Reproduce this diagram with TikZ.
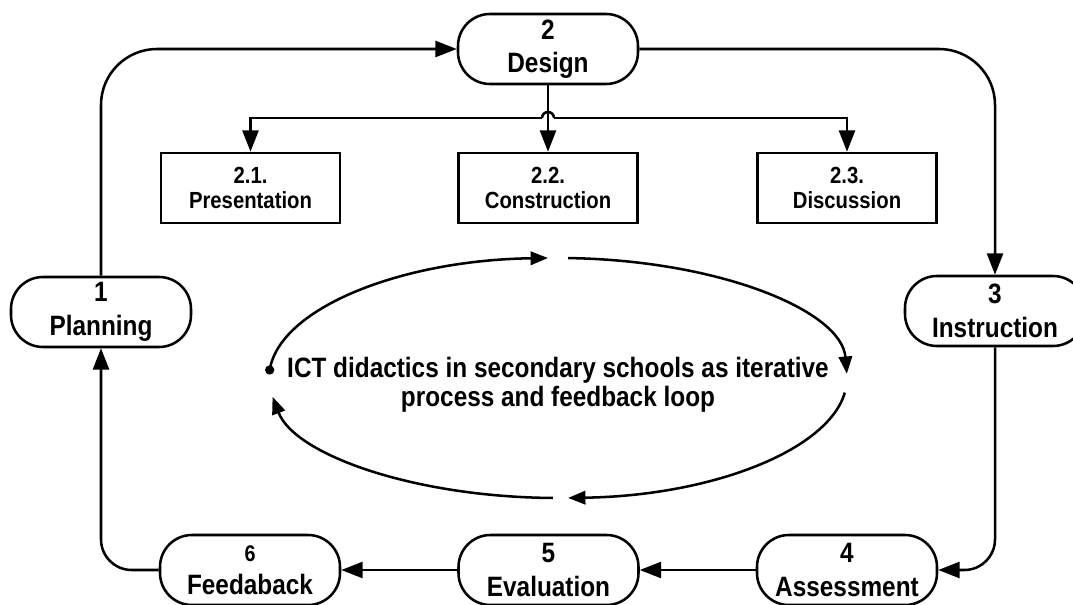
\documentclass[tikz,border=0pt]{standalone}
\usepackage{fontspec}
\setmainfont{Liberation Sans}[FakeStretch=0.87]
\usetikzlibrary{arrows.meta}
\begin{document}
\begin{tikzpicture}[x=0.75pt,y=0.75pt, line width=1.9pt,
 term/.style={draw, rounded corners=24pt, minimum width=135pt, minimum height=52.5pt, align=center, inner sep=0pt, font=\bfseries\fontsize{21}{25}\selectfont},
 sub/.style={draw, minimum width=134pt, minimum height=52.5pt, align=center, inner sep=0pt, font=\bfseries\fontsize{17.5}{18.5}\selectfont},
 arr/.style={-{Triangle[length=16pt,width=12pt]}},
 larr/.style={-{Triangle[length=13pt,width=10pt]}},
]
\useasboundingbox (0,0) rectangle (1073,-605);
\clip (0,0) rectangle (1073,-605);
\fill[white] (0,0) rectangle (1073,-605);
% main nodes
\node[term] (design) at (548,-49) {2\\Design};
\node[term] (plan) at (101,-312) {1\\Planning};
\node[term] (instr) at (995,-311) {3\\Instruction};
\node[term] (assess) at (847,-570) {4\\Assessment};
\node[term] (eval) at (548.5,-570) {5\\Evaluation};
\node[term] (feed) at (250,-570) {{\fontsize{17}{19}\selectfont 6}\\Feedaback};
% sub nodes
\node[sub] (s1) at (250.5,-188) {2.1.\\Presentation};
\node[sub] (s2) at (548,-188) {2.2.\\Construction};
\node[sub] (s3) at (847,-188) {2.3.\\Discussion};
% main cycle
\draw[arr, rounded corners=42pt] (plan.north) |- (design.west);
\draw[arr, rounded corners=42pt] (design.east) -| (instr.north);
\draw[arr, rounded corners=23pt] (instr.south) |- (assess.east);
\draw[arr] (assess.west) -- (eval.east);
\draw[arr] (eval.west) -- (feed.east);
\draw[arr, rounded corners=23pt] (feed.west) -| (plan.south);
% design branches
\draw[arr] (design.south) -- (s2.north);
\coordinate (hl) at (542,-118);
\coordinate (hr) at (554,-118);
\draw[arr] (hl) -| (s1.north);
\draw[arr] (hr) -| (s3.north);
\draw (hl) arc[start angle=180, end angle=0, radius=4.5pt];
% central loop
\coordinate (ec) at (558,-378);
\node[circle, fill, inner sep=0pt, minimum size=7pt] (dot) at (269.7,-370) {};
\node[font=\bfseries\fontsize{21}{22}\selectfont, align=center] (loop) at (558,-385)
  {ICT didactics in secondary schools as iterative\\process and feedback loop};
\draw[larr] (dot.center) arc[start angle=176.2, end angle=92, x radius=216.75pt, y radius=90pt];
\draw[larr] (ec) ++(88:216.75pt and 90pt) arc[start angle=88, end angle=2, x radius=216.75pt, y radius=90pt];
\draw[larr] (ec) ++(-7:216.75pt and 90pt) arc[start angle=-7, end angle=-88, x radius=216.75pt, y radius=90pt];
\draw[larr] (ec) ++(-91:216.75pt and 90pt) arc[start angle=-91, end angle=-171, x radius=216.75pt, y radius=90pt];
\end{tikzpicture}
\end{document}
